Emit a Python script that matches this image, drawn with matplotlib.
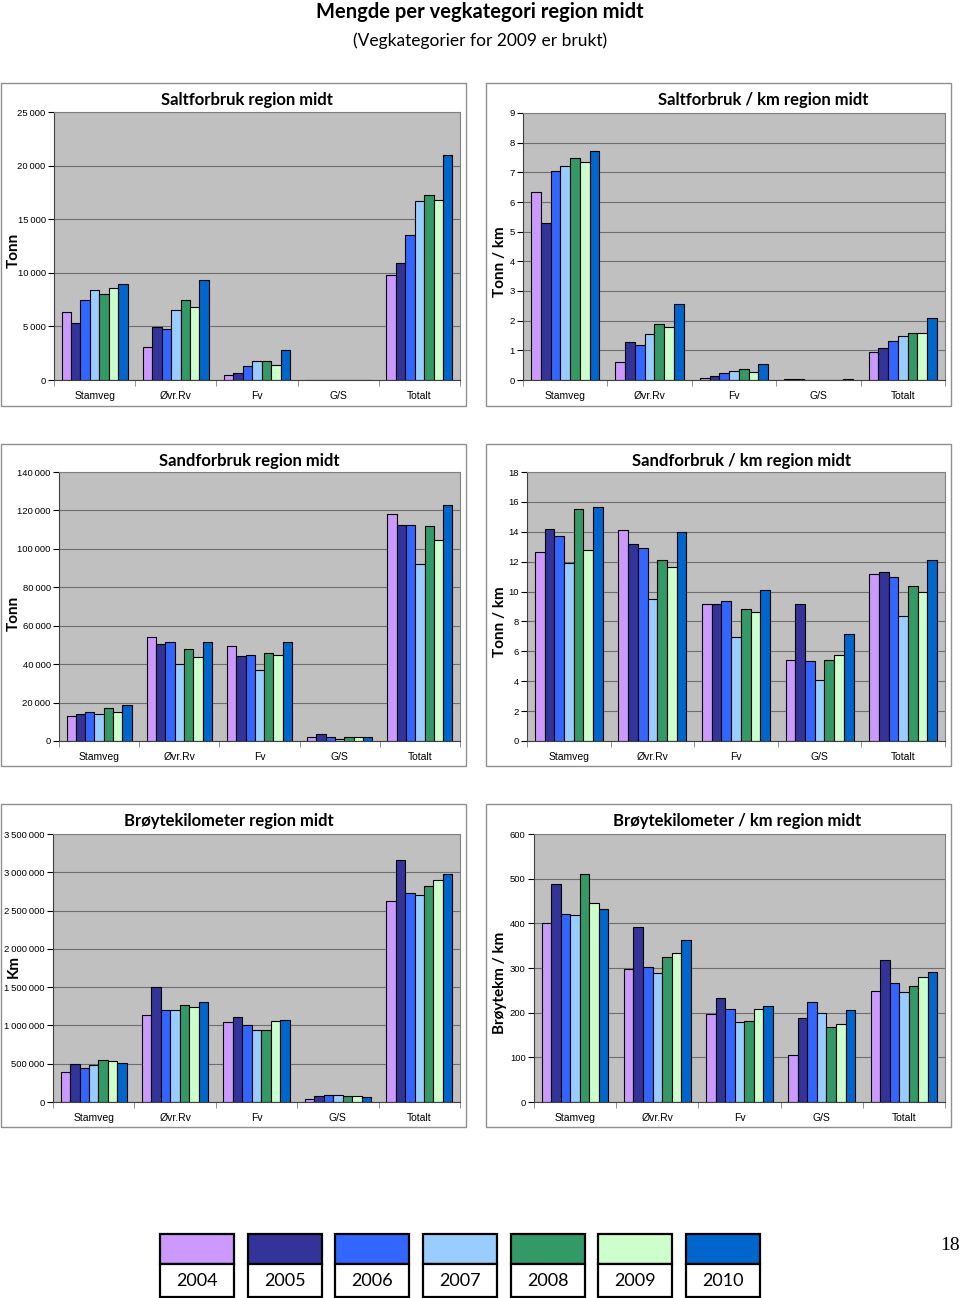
import matplotlib
matplotlib.use("Agg")
import matplotlib.pyplot as plt
from matplotlib.patches import Rectangle
from matplotlib.ticker import FuncFormatter
import numpy as np

W, H = 960, 1298

categories = ["Stamveg", "Øvr.Rv", "Fv", "G/S", "Totalt"]
years = ["2004", "2005", "2006", "2007", "2008", "2009", "2010"]
colors = ["#CC99FF", "#333399", "#3366FF", "#99CCFF", "#339966", "#CCFFCC", "#0066CC"]

# values: one row per year, columns follow categories
salt = [
    [6300, 3100, 500, 0, 9800],
    [5300, 4900, 650, 0, 10900],
    [7500, 4800, 1300, 0, 13500],
    [8400, 6500, 1800, 0, 16700],
    [8000, 7500, 1800, 0, 17300],
    [8600, 6800, 1400, 0, 16800],
    [9000, 9300, 2800, 0, 21000],
]
salt_km = [
    [6.35, 0.60, 0.08, 0.04, 0.95],
    [5.30, 1.27, 0.13, 0.04, 1.08],
    [7.05, 1.18, 0.22, 0.0, 1.30],
    [7.20, 1.55, 0.32, 0.0, 1.48],
    [7.50, 1.90, 0.36, 0.0, 1.58],
    [7.35, 1.80, 0.27, 0.0, 1.58],
    [7.72, 2.55, 0.55, 0.04, 2.08],
]
sand = [
    [13000, 54300, 49300, 2000, 118300],
    [14300, 50700, 44400, 3800, 112500],
    [15000, 51500, 45000, 2000, 112500],
    [14300, 40000, 36800, 1300, 92000],
    [17000, 48000, 45800, 2000, 111800],
    [15000, 43700, 44500, 2000, 104800],
    [18500, 51500, 51500, 2000, 123000],
]
sand_km = [
    [12.65, 14.10, 9.20, 5.45, 11.20],
    [14.20, 13.20, 9.20, 9.15, 11.30],
    [13.75, 12.90, 9.40, 5.35, 11.00],
    [11.90, 9.50, 6.95, 4.10, 8.35],
    [15.55, 12.10, 8.80, 5.45, 10.40],
    [12.80, 11.65, 8.60, 5.75, 10.00],
    [15.65, 14.00, 10.10, 7.15, 12.10],
]
broyt = [
    [390000, 1130000, 1040000, 40000, 2620000],
    [500000, 1500000, 1110000, 75000, 3165000],
    [445000, 1200000, 1005000, 95000, 2725000],
    [485000, 1200000, 935000, 95000, 2705000],
    [550000, 1270000, 935000, 80000, 2815000],
    [535000, 1235000, 1060000, 80000, 2905000],
    [515000, 1305000, 1075000, 60000, 2975000],
]
broyt_km = [
    [400, 297, 197, 106, 248],
    [488, 392, 233, 188, 318],
    [420, 302, 208, 225, 267],
    [418, 288, 178, 200, 246],
    [510, 325, 182, 167, 260],
    [445, 333, 208, 175, 279],
    [433, 362, 215, 206, 291],
]

panels = [
    # data, title, ylabel, ymax, step, axes box (l, t, r, b), frame, title x, ylabel pos
    (salt, "Saltforbruk region midt", "Tonn", 25000, 5000, (54, 112, 460, 380), (1, 83, 466, 406), 247, (14, 250)),
    (salt_km, "Saltforbruk / km region midt", "Tonn / km", 9, 1, (523, 113, 945, 380), (486, 83, 951, 406), 763, (500, 262)),
    (sand, "Sandforbruk region midt", "Tonn", 140000, 20000, (59, 472, 460, 741), (1, 444, 466, 766), 249, (14, 613)),
    (sand_km, "Sandforbruk / km region midt", "Tonn / km", 18, 2, (527, 472, 945, 741), (486, 444, 951, 766), 742, (500, 622)),
    (broyt, "Brøytekilometer region midt", "Km", 3500000, 500000, (53, 834, 460, 1102), (1, 804, 466, 1127), 229, (14, 967)),
    (broyt_km, "Brøytekilometer / km region midt", "Brøytekm / km", 600, 100, (534, 834, 945, 1102), (486, 804, 951, 1127), 737, (500, 983)),
]

title_font = "Lato"
tick_font = "Liberation Sans"


def fx(x):
    return x / W


def fy(y):
    return 1 - y / H


def thousands(v, pos):
    return "{:,.0f}".format(v).replace(",", "\u2009")


fig = plt.figure(figsize=(W / 100, H / 100), dpi=100)
fig.patch.set_facecolor("white")

fig.text(0.5, fy(12), "Mengde per vegkategori region midt", ha="center", va="center",
         fontsize=14.5, fontweight="bold", family=title_font)
fig.text(0.5, fy(41), "(Vegkategorier for 2009 er brukt)", ha="center", va="center",
         fontsize=12.5, family=title_font)

x = np.arange(len(categories))
w = 0.116

for data, title, ylabel, ymax, step, box, frame, tx, ylpos in panels:
    l, t, r, b = box
    fig.add_artist(Rectangle((fx(frame[0]), fy(frame[3])), fx(frame[2] - frame[0]),
                             (frame[3] - frame[1]) / H, transform=fig.transFigure,
                             facecolor="none", edgecolor="#909090", lw=1.0))
    ax = fig.add_axes([fx(l), fy(b), fx(r - l), (b - t) / H])
    ax.set_facecolor("#C0C0C0")
    ax.set_axisbelow(True)
    for i, vals in enumerate(data):
        ax.bar(x + (i - 3) * w, vals, width=w, color=colors[i], edgecolor="black", lw=0.8)
    ax.set_xlim(-0.5, len(categories) - 0.5)
    ax.set_ylim(0, ymax)
    ax.set_yticks(np.arange(0, ymax + step / 2, step))
    if ymax >= 1000:
        ax.yaxis.set_major_formatter(FuncFormatter(thousands))
    ax.grid(axis="y", color="#6E6E6E", lw=0.8)
    ax.set_xticks(x)
    ax.set_xticklabels(categories)
    ax.set_xticks(np.arange(-0.5, len(categories)), minor=True)
    ax.tick_params(axis="x", which="major", length=0, pad=8)
    ax.tick_params(axis="x", which="minor", length=4, color="#808080", direction="out")
    ax.tick_params(axis="y", length=4, direction="out", pad=2)
    for lab in ax.get_xticklabels():
        lab.set_fontfamily(tick_font)
        lab.set_fontsize(7.5)
    for lab in ax.get_yticklabels():
        lab.set_fontfamily(tick_font)
        lab.set_fontsize(6.8)
    for s in ["top", "right"]:
        ax.spines[s].set_color("#808080")
    for s in ["left", "bottom"]:
        ax.spines[s].set_color("#404040")
    fig.text(fx(tx), fy(frame[1] + 17), title, ha="center", va="center",
             fontsize=12, fontweight="bold", family=title_font)
    fig.text(fx(ylpos[0]), fy(ylpos[1]), ylabel, ha="center", va="center", rotation=90,
             fontsize=11, fontweight="bold", family=title_font)

# legend row at the bottom
lax = fig.add_axes([0, 0, 1, 1], facecolor="none")
lax.set_xlim(0, W)
lax.set_ylim(H, 0)
lax.axis("off")
lefts = [160, 248, 335, 423, 511, 598, 686]
for i, yr in enumerate(years):
    x0 = lefts[i]
    lax.add_patch(Rectangle((x0, 1234), 74, 30, facecolor=colors[i], edgecolor="black", lw=1.6))
    lax.add_patch(Rectangle((x0, 1264), 74, 33, facecolor="white", edgecolor="black", lw=1.6))
    lax.text(x0 + 37, 1281, yr, ha="center", va="center", fontsize=13, family=title_font)

fig.text(fx(950), fy(1245), "18", ha="center", va="center", fontsize=14, family="Liberation Serif")

fig.savefig("out.png", dpi=100)
